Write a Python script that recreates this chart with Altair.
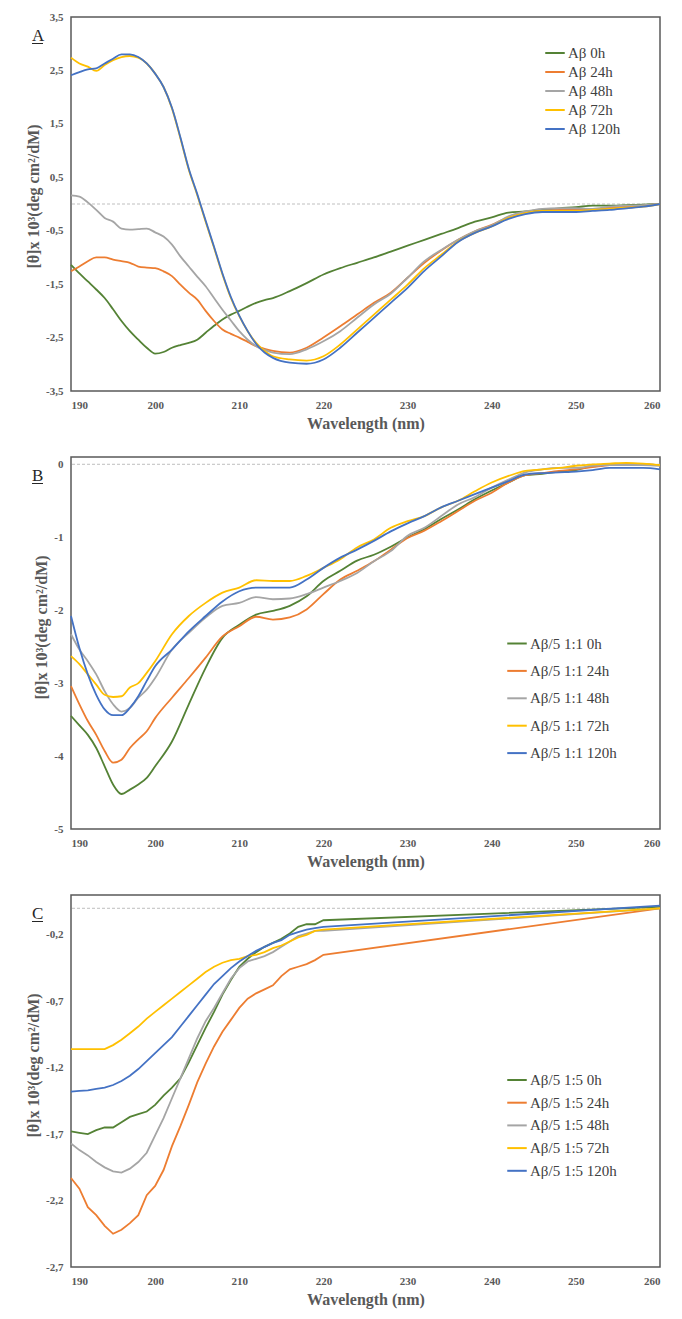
import altair as alt
import pandas as pd

# ---------------- Panel A ----------------
wl_a = list(range(190, 215)) + list(range(216, 261, 2))
a_names = ["Aβ 0h", "Aβ 24h", "Aβ 48h", "Aβ 72h", "Aβ 120h"]
a_0h = [-1.14, -1.30, -1.45, -1.60, -1.76, -1.97, -2.19, -2.38, -2.54, -2.69, -2.80, -2.77, -2.69,
        -2.64, -2.60, -2.54, -2.41, -2.28, -2.16, -2.07, -2.00, -1.92, -1.85, -1.80, -1.76,
        -1.63, -1.48, -1.32, -1.20, -1.10, -1.00, -0.89, -0.78, -0.67, -0.56, -0.45, -0.33,
        -0.25, -0.16, -0.14, -0.11, -0.08, -0.06, -0.03, -0.03, -0.02, -0.01, 0.0]
a_24h = [-1.26, -1.17, -1.07, -1.00, -1.00, -1.04, -1.07, -1.10, -1.17, -1.19, -1.20, -1.26, -1.35,
         -1.51, -1.66, -1.79, -2.00, -2.19, -2.35, -2.43, -2.50, -2.58, -2.66, -2.71, -2.75,
         -2.78, -2.69, -2.50, -2.29, -2.07, -1.85, -1.66, -1.38, -1.10, -0.87, -0.67, -0.51,
         -0.39, -0.25, -0.17, -0.13, -0.11, -0.11, -0.11, -0.07, -0.05, -0.03, 0.0]
a_48h = [0.16, 0.14, 0.03, -0.11, -0.26, -0.33, -0.46, -0.48, -0.47, -0.46, -0.53, -0.61, -0.76,
         -0.98, -1.17, -1.36, -1.54, -1.76, -1.98, -2.18, -2.38, -2.54, -2.66, -2.73, -2.78,
         -2.81, -2.72, -2.57, -2.38, -2.13, -1.88, -1.68, -1.38, -1.07, -0.86, -0.67, -0.51,
         -0.40, -0.23, -0.14, -0.09, -0.08, -0.08, -0.09, -0.05, -0.03, -0.02, 0.0]
a_72h = [2.74, 2.63, 2.57, 2.49, 2.60, 2.69, 2.75, 2.77, 2.74, 2.63, 2.44, 2.19, 1.79,
         1.23, 0.64, 0.17, -0.33, -0.82, -1.32, -1.76, -2.10, -2.38, -2.60, -2.75, -2.85,
         -2.91, -2.93, -2.85, -2.63, -2.35, -2.07, -1.79, -1.51, -1.20, -0.95, -0.70, -0.54,
         -0.42, -0.26, -0.17, -0.13, -0.13, -0.13, -0.11, -0.09, -0.07, -0.05, 0.0]
a_120h = [2.41, 2.47, 2.52, 2.54, 2.63, 2.72, 2.80, 2.80, 2.75, 2.63, 2.44, 2.19, 1.80,
          1.25, 0.66, 0.19, -0.31, -0.80, -1.30, -1.74, -2.09, -2.38, -2.62, -2.78, -2.88,
          -2.97, -2.99, -2.91, -2.69, -2.41, -2.13, -1.85, -1.57, -1.25, -0.98, -0.71, -0.54,
          -0.42, -0.28, -0.19, -0.15, -0.15, -0.15, -0.13, -0.11, -0.08, -0.05, 0.0]
a_ticks = [-3.5, -2.5, -1.5, -0.5, 0.5, 1.5, 2.5, 3.5]

# ---------------- Panel B ----------------
wl_b = list(range(190, 201)) + list(range(202, 261, 2))
b_names = ["Aβ/5 1:1 0h", "Aβ/5 1:1 24h", "Aβ/5 1:1 48h", "Aβ/5 1:1 72h", "Aβ/5 1:1 120h"]
b_0h = [-3.45, -3.58, -3.71, -3.89, -4.14, -4.39, -4.52, -4.46, -4.39, -4.30, -4.14,
        -3.80, -3.29, -2.79, -2.38, -2.20, -2.06, -2.01, -1.94, -1.81, -1.60, -1.46, -1.32,
        -1.24, -1.13, -1.00, -0.89, -0.75, -0.62, -0.48, -0.36, -0.25, -0.15, -0.13, -0.10,
        -0.08, -0.02, -0.01, 0.0, 0.0, -0.01]
b_24h = [-3.04, -3.29, -3.52, -3.71, -3.93, -4.09, -4.05, -3.89, -3.77, -3.66, -3.48,
         -3.20, -2.93, -2.65, -2.36, -2.22, -2.09, -2.13, -2.10, -1.99, -1.78, -1.58, -1.46,
         -1.33, -1.17, -1.01, -0.91, -0.78, -0.64, -0.50, -0.39, -0.25, -0.15, -0.12, -0.09,
         -0.07, -0.04, -0.01, 0.0, 0.0, -0.01]
b_48h = [-2.33, -2.54, -2.70, -2.88, -3.11, -3.29, -3.39, -3.34, -3.20, -3.09, -2.93,
         -2.54, -2.31, -2.10, -1.94, -1.90, -1.82, -1.85, -1.84, -1.78, -1.69, -1.60, -1.49,
         -1.33, -1.19, -0.98, -0.87, -0.71, -0.55, -0.45, -0.32, -0.21, -0.11, -0.07, -0.05,
         -0.05, -0.02, -0.01, -0.01, -0.01, -0.02]
b_72h = [-2.63, -2.74, -2.88, -3.02, -3.16, -3.19, -3.18, -3.06, -3.00, -2.86, -2.70,
         -2.33, -2.08, -1.90, -1.76, -1.69, -1.59, -1.60, -1.60, -1.53, -1.42, -1.30, -1.14,
         -1.03, -0.87, -0.78, -0.71, -0.59, -0.50, -0.37, -0.25, -0.16, -0.09, -0.07, -0.05,
         -0.02, 0.0, 0.01, 0.02, 0.01, -0.01]
b_120h = [-2.08, -2.52, -2.88, -3.16, -3.36, -3.44, -3.44, -3.34, -3.18, -2.97, -2.77,
          -2.54, -2.29, -2.08, -1.88, -1.74, -1.69, -1.69, -1.69, -1.58, -1.42, -1.28, -1.17,
          -1.05, -0.92, -0.81, -0.71, -0.59, -0.50, -0.41, -0.32, -0.23, -0.14, -0.12, -0.11,
          -0.10, -0.08, -0.05, -0.05, -0.05, -0.07]
b_ticks = [-5, -4, -3, -2, -1, 0]

# ---------------- Panel C ----------------
wl_c = list(range(190, 221)) + [260]
c_names = ["Aβ/5 1:5 0h", "Aβ/5 1:5 24h", "Aβ/5 1:5 48h", "Aβ/5 1:5 72h", "Aβ/5 1:5 120h"]
c_0h = [-1.68, -1.69, -1.70, -1.67, -1.65, -1.65, -1.61, -1.57, -1.55, -1.53, -1.48, -1.41,
        -1.35, -1.28, -1.16, -1.03, -0.90, -0.78, -0.65, -0.54, -0.44, -0.38, -0.33, -0.29,
        -0.26, -0.23, -0.19, -0.14, -0.12, -0.12, -0.09, 0.01]
c_24h = [-2.03, -2.11, -2.25, -2.31, -2.39, -2.45, -2.42, -2.37, -2.31, -2.16, -2.09, -1.97,
         -1.79, -1.64, -1.48, -1.31, -1.17, -1.04, -0.93, -0.84, -0.75, -0.68, -0.64, -0.61,
         -0.58, -0.51, -0.46, -0.44, -0.42, -0.39, -0.35, 0.0]
c_48h = [-1.77, -1.82, -1.86, -1.91, -1.95, -1.98, -1.99, -1.96, -1.91, -1.84, -1.71, -1.58,
         -1.43, -1.28, -1.13, -0.98, -0.85, -0.75, -0.64, -0.53, -0.45, -0.40, -0.38, -0.36,
         -0.33, -0.29, -0.25, -0.21, -0.19, -0.17, -0.17, 0.0]
c_72h = [-1.06, -1.06, -1.06, -1.06, -1.06, -1.03, -0.99, -0.94, -0.89, -0.83, -0.78, -0.73,
         -0.68, -0.63, -0.58, -0.53, -0.48, -0.44, -0.41, -0.39, -0.38, -0.36, -0.35, -0.33,
         -0.30, -0.28, -0.25, -0.22, -0.20, -0.17, -0.16, 0.0]
c_120h = [-1.38, -1.375, -1.37, -1.36, -1.35, -1.33, -1.30, -1.26, -1.21, -1.15, -1.09, -1.03,
          -0.97, -0.89, -0.81, -0.73, -0.65, -0.57, -0.51, -0.45, -0.40, -0.36, -0.32, -0.29,
          -0.26, -0.24, -0.20, -0.18, -0.16, -0.15, -0.14, 0.02]
c_ticks = [-2.7, -2.2, -1.7, -1.2, -0.7, -0.2]

colors = ["#548235", "#ED7D31", "#A5A5A5", "#FFC000", "#4472C4"]
x_ticks = list(range(190, 261, 10))

SERIF = "Liberation Serif"
TEXT_COL = "#404040"


def panel(wl, names, series, ydomain, yticks, letter, leg_x, leg_y, row_pad, height,
          title_shift, interp):
    rows = []
    for name, vals in zip(names, series):
        for w, v in zip(wl, vals):
            rows.append({"wl": w, "val": v, "series": name})
    df = pd.DataFrame(rows)

    lines = alt.Chart(df).mark_line(strokeWidth=1.8, interpolate=interp).encode(
        x=alt.X("wl:Q",
                scale=alt.Scale(domain=[190, 260], nice=False, zero=False),
                axis=alt.Axis(values=x_ticks, title="Wavelength (nm)")),
        y=alt.Y("val:Q",
                scale=alt.Scale(domain=ydomain, nice=False, zero=False),
                axis=alt.Axis(values=yticks,
                              labelExpr="replace(toString(datum.value), '.', ',')",
                              title="[θ]x 10³(deg cm²/dM)",
                              titleY=height / 2 + title_shift)),
        color=alt.Color("series:N",
                        scale=alt.Scale(domain=names, range=colors),
                        sort=names,
                        legend=alt.Legend(title=None, orient="none", legendX=leg_x, legendY=leg_y,
                                          symbolType="stroke", symbolSize=380,
                                          symbolStrokeWidth=2, labelFont=SERIF,
                                          labelFontSize=15, labelColor=TEXT_COL,
                                          rowPadding=row_pad, labelOffset=2, padding=0)),
        detail="series:N",
    )

    zero = alt.Chart(pd.DataFrame({"val": [0.0]})).mark_rule(
        color="#BFBFBF", strokeDash=[3, 2], strokeWidth=1
    ).encode(y="val:Q")

    lab = alt.Chart(pd.DataFrame({"t": [letter]})).mark_text(
        font=SERIF, fontSize=17, align="left", baseline="alphabetic", color="#262626"
    ).encode(text="t:N", x=alt.value(-39), y=alt.value(24))

    underline = alt.Chart(pd.DataFrame({"t": [letter]})).mark_rule(
        color="#262626", strokeWidth=1
    ).encode(x=alt.value(-39), x2=alt.value(-28), y=alt.value(26.5))

    return alt.layer(zero, lines, lab, underline).properties(width=589, height=height)


pA = panel(wl_a, a_names, [a_0h, a_24h, a_48h, a_72h, a_120h], [-3.5, 3.5], a_ticks, "A",
           473, 25, 0.0, 374, -8, "monotone")
pB = panel(wl_b, b_names, [b_0h, b_24h, b_48h, b_72h, b_120h], [-5, 0.1], b_ticks, "B",
           435, 175.5, 8.4, 372, -16, "monotone")
pC = panel(wl_c, c_names, [c_0h, c_24h, c_48h, c_72h, c_120h], [-2.7, 0.1], c_ticks, "C",
           435, 174, 3.7, 372, -16, "linear")

chart = alt.vconcat(pA, pB, pC, spacing=24).resolve_scale(
    color="independent", x="independent", y="independent"
).resolve_legend(color="independent").properties(
    padding={"left": 16, "top": 2, "right": 5, "bottom": 5}
).configure_view(
    stroke="#595959", strokeWidth=1.5
).configure_axis(
    grid=False, ticks=False, domain=False,
    labelFont=SERIF, labelFontSize=11, labelFontWeight="bold", labelColor="#595959",
    labelPadding=8,
    titleFont=SERIF, titleFontSize=16, titleFontWeight="bold", titleColor="#595959",
).configure_axisY(titlePadding=4).configure_axisX(titlePadding=5)

chart.save("out.html", embed_options={"renderer": "svg", "actions": False})
